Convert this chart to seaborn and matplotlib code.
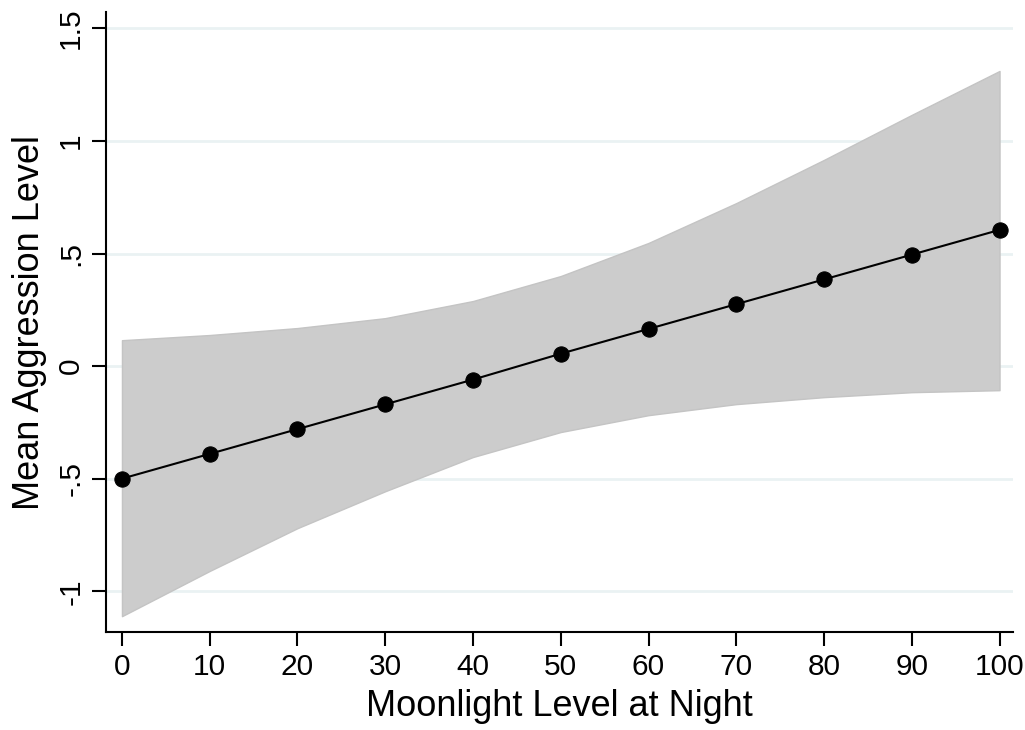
import numpy as np
import pandas as pd
import seaborn as sns
import matplotlib.pyplot as plt

moonlight = [0, 10, 20, 30, 40, 50, 60, 70, 80, 90, 100]
mean_aggr = [-0.50, -0.39, -0.28, -0.17, -0.06, 0.055, 0.165, 0.275, 0.385, 0.495, 0.605]
ci_upper = [0.115, 0.138, 0.169, 0.213, 0.289, 0.400, 0.547, 0.724, 0.916, 1.116, 1.311]
ci_lower = [-1.111, -0.91, -0.72, -0.556, -0.404, -0.293, -0.218, -0.169, -0.138, -0.116, -0.107]

y_ticks = [-1, -0.5, 0, 0.5, 1, 1.5]
y_labels = ["-1", "-.5", "0", ".5", "1", "1.5"]
x_ticks = [0, 10, 20, 30, 40, 50, 60, 70, 80, 90, 100]

df = pd.DataFrame({"moonlight": moonlight, "mean": mean_aggr,
                   "lo": ci_lower, "hi": ci_upper})

sns.set_style("white")
plt.rcParams['font.family'] = ['Liberation Sans', 'DejaVu Sans']
plt.rcParams['text.color'] = 'black'
plt.rcParams['axes.labelcolor'] = 'black'
plt.rcParams['xtick.color'] = 'black'
plt.rcParams['ytick.color'] = 'black'

fig = plt.figure(figsize=(10.25, 7.3), dpi=100)
ax = fig.add_axes([0.1034, 0.134, 0.8846, 0.8496])

for t in y_ticks:
    ax.axhline(t, color="#eaf2f3", lw=2, zorder=0)

ax.fill_between(df.moonlight, df.lo, df.hi, facecolor="#cccccc",
                edgecolor="#c4c4c4", lw=1, zorder=1)
sns.lineplot(data=df, x="moonlight", y="mean", color="black", lw=1.5,
             marker="o", markersize=11, markeredgecolor="black", ax=ax, zorder=3)

ax.set_xlim(-1.82, 101.5)
ax.set_ylim(-1.182, 1.573)
ax.set_xticks(x_ticks)
ax.set_yticks(y_ticks)
ax.set_yticklabels(y_labels, rotation=90, va="center")
ax.tick_params(axis="both", direction="out", length=10, width=1.5,
               labelsize=21.5, color="black", labelcolor="black", pad=5)
ax.tick_params(left=True, bottom=True)

for s in ["top", "right"]:
    ax.spines[s].set_visible(False)
for s in ["left", "bottom"]:
    ax.spines[s].set_color("black")
    ax.spines[s].set_linewidth(1.5)

ax.set_xlabel("Moonlight Level at Night", fontsize=26, labelpad=6)
ax.set_ylabel("Mean Aggression Level", fontsize=26, labelpad=7)

plt.savefig("out.png", dpi=100)
